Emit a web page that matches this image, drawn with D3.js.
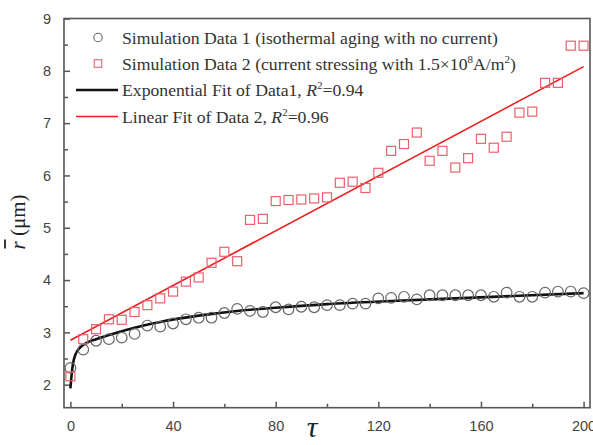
<!DOCTYPE html>
<html><head><meta charset="utf-8">
<script src="https://cdn.jsdelivr.net/npm/d3@7"></script>
<style>body{margin:0;background:#fff}svg{display:block}</style>
</head><body><svg id="c" width="593" height="445"></svg>
<script>
const tau = d3.range(0, 201, 5);
const data1 = [2.32,2.67,2.84,2.87,2.90,2.97,3.13,3.11,3.17,3.25,3.28,3.28,3.37,3.45,3.41,3.39,3.48,3.44,3.49,3.48,3.52,
  3.52,3.55,3.55,3.65,3.66,3.68,3.63,3.71,3.71,3.71,3.71,3.71,3.68,3.76,3.68,3.68,3.76,3.78,3.78,3.75];
const data2 = [2.16,2.87,3.06,3.25,3.24,3.39,3.52,3.65,3.78,3.97,4.05,4.33,4.54,4.36,5.15,5.17,5.51,5.53,5.54,5.56,5.58,
  5.86,5.88,5.76,6.05,6.47,6.60,6.82,6.28,6.47,6.15,6.33,6.70,6.53,6.74,7.20,7.22,7.77,7.77,8.48,8.48];
const fit1 = [[0,1.93],[0.6,2.25],[1,2.40],[2,2.58],[4,2.72],[6,2.79],[10,2.87],[15,2.95],[20,3.02],[25,3.09],[35,3.20],[50,3.32],
  [65,3.41],[80,3.47],[100,3.54],[125,3.60],[150,3.65],[175,3.70],[200,3.75]];
const fit2 = [[0,2.85],[200,8.08]];
const xTicks = [0,40,80,120,160,200];
const yTicks = [2,3,4,5,6,7,8,9];
const legendLabels = ["Simulation Data 1 (isothermal aging with no current)"];

const svg = d3.select("#c");
const L=64, R=590, T=18.5, B=407.7;
const x = d3.scaleLinear().domain([-2.5,202.5]).range([L,R]);
const y = d3.scaleLinear().domain([1.56,9]).range([B,T]);
const axisCol="#555", textCol="#444";

// frame
svg.append("rect").attr("x",L).attr("y",T).attr("width",R-L).attr("height",B-T)
  .attr("fill","none").attr("stroke",axisCol).attr("stroke-width",1.6);

// axis ticks (inward)
svg.append("g").attr("transform",`translate(0,${B})`)
  .call(d3.axisBottom(x).tickValues(xTicks).tickSize(-6).tickPadding(13).tickFormat(d3.format("d")));
svg.append("g").attr("transform",`translate(0,${B})`)
  .call(d3.axisBottom(x).tickValues(d3.range(20,200,40)).tickSize(-4).tickFormat(""));
svg.append("g").attr("transform",`translate(${L},0)`)
  .call(d3.axisLeft(y).tickValues(yTicks).tickSize(-6).tickPadding(13));
svg.append("g").attr("transform",`translate(${L},0)`)
  .call(d3.axisLeft(y).tickValues(d3.range(2.5,9,1)).tickSize(-4).tickFormat(""));
svg.selectAll(".domain").remove();
svg.selectAll(".tick line").attr("stroke",axisCol).attr("stroke-width",1.5);
svg.selectAll(".tick text").attr("fill",textCol).style("font-family","Liberation Sans, Arial, sans-serif").style("font-size","14.5px");

// fits
const line = d3.line().x(d=>x(d[0])).y(d=>y(d[1])).curve(d3.curveMonotoneX);
svg.append("path").datum(fit1).attr("d",line).attr("fill","none").attr("stroke","#111").attr("stroke-width",2.6);
svg.append("path").datum(fit2).attr("d",line).attr("fill","none").attr("stroke","#f01c1c").attr("stroke-width",1.6);

// markers
svg.append("g").selectAll("circle").data(tau).join("circle")
  .attr("cx",(d)=>x(d)).attr("cy",(d,i)=>y(data1[i])).attr("r",5.3)
  .attr("fill","none").attr("stroke","#666").attr("stroke-width",1.2);
const s=9;
svg.append("g").selectAll("rect").data(tau).join("rect")
  .attr("x",d=>x(d)-s/2).attr("y",(d,i)=>y(data2[i])-s/2).attr("width",s).attr("height",s)
  .attr("fill","none").attr("stroke","#e8606c").attr("stroke-width",1.2);

// legend
const lg = svg.append("g").style("font-family","Liberation Serif, Times New Roman, serif").style("font-size","17.7px").attr("fill","#333");
const tx=122, rows=[37.5,63.5,90,116.5];
lg.append("circle").attr("cx",98).attr("cy",rows[0]).attr("r",4.2).attr("fill","none").attr("stroke","#666").attr("stroke-width",1.1);
lg.append("rect").attr("x",98-3.8).attr("y",rows[1]-3.8).attr("width",7.6).attr("height",7.6).attr("fill","none").attr("stroke","#e8606c").attr("stroke-width",1.1);
lg.append("line").attr("x1",76).attr("x2",118).attr("y1",rows[2]).attr("y2",rows[2]).attr("stroke","#111").attr("stroke-width",2.6);
lg.append("line").attr("x1",76).attr("x2",118).attr("y1",rows[3]).attr("y2",rows[3]).attr("stroke","#f01c1c").attr("stroke-width",1.6);
lg.append("text").attr("x",tx).attr("y",rows[0]+6).text(legendLabels[0]);
const t2 = lg.append("text").attr("x",tx).attr("y",rows[1]+6);
t2.append("tspan").text("Simulation Data 2 (current stressing with 1.5×10");
t2.append("tspan").attr("dy",-7).style("font-size","11px").text("8");
t2.append("tspan").attr("dy",7).text("A/m");
t2.append("tspan").attr("dy",-7).style("font-size","11px").text("2");
t2.append("tspan").attr("dy",7).text(")");
const t3 = lg.append("text").attr("x",tx).attr("y",rows[2]+6);
t3.append("tspan").text("Exponential Fit of Data1, ");
t3.append("tspan").style("font-style","italic").text("R");
t3.append("tspan").attr("dy",-7).style("font-size","11px").text("2");
t3.append("tspan").attr("dy",7).text("=0.94");
const t4 = lg.append("text").attr("x",tx).attr("y",rows[3]+6);
t4.append("tspan").text("Linear Fit of Data 2, ");
t4.append("tspan").style("font-style","italic").text("R");
t4.append("tspan").attr("dy",-7).style("font-size","11px").text("2");
t4.append("tspan").attr("dy",7).text("=0.96");

// axis titles
svg.append("text").attr("x",312).attr("y",437).attr("text-anchor","middle")
  .style("font-family","Liberation Serif, Times New Roman, serif").style("font-style","italic").style("font-size","30px").attr("fill","#222").text("τ");
const yl = svg.append("g").attr("transform","translate(25,222) rotate(-90)");
const ylt = yl.append("text").attr("text-anchor","middle").style("font-family","Liberation Serif, Times New Roman, serif").style("font-size","21px").attr("fill","#222");
const rsp = ylt.append("tspan").style("font-style","italic").text("r");
ylt.append("tspan").text(" (μm)");
const bb = rsp.node().getBBox();
yl.append("line").attr("x1",bb.x+1).attr("x2",bb.x+bb.width+1).attr("y1",bb.y-1).attr("y2",bb.y-1).attr("stroke","#222").attr("stroke-width",1.8);
</script></body></html>
